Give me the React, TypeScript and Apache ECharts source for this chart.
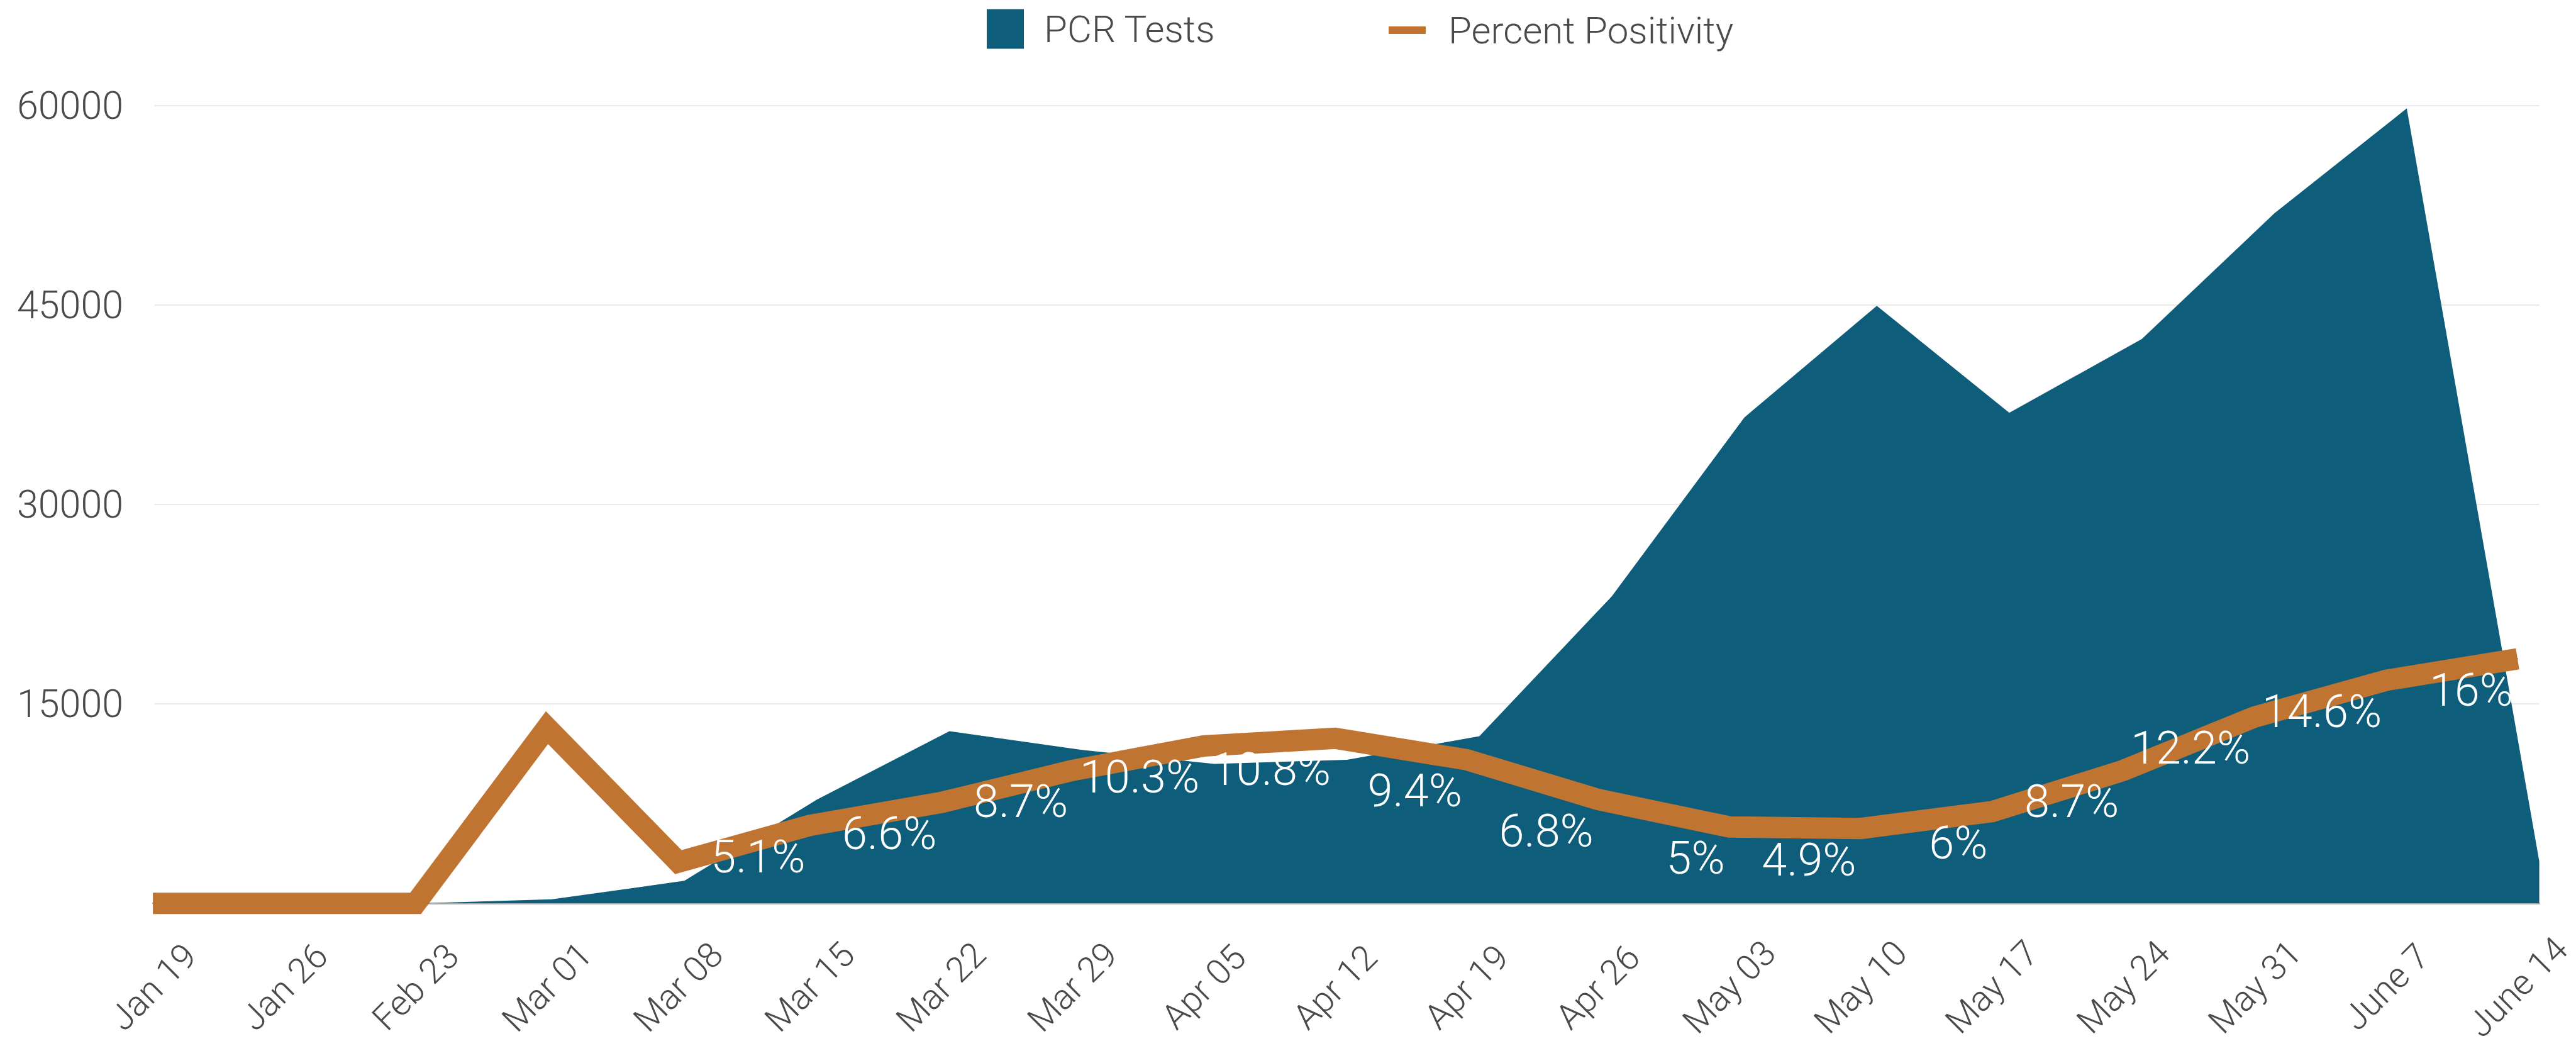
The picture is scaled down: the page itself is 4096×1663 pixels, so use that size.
import React, { useEffect, useRef } from "react";
import * as echarts from "echarts";

const categories = [
  "Jan 19", "Jan 26", "Feb 23", "Mar 01", "Mar 08", "Mar 15", "Mar 22", "Mar 29",
  "Apr 05", "Apr 12", "Apr 19", "Apr 26", "May 03", "May 10", "May 17", "May 24",
  "May 31", "June 7", "June 14",
];
const pcrTests = [
  0, 0, 0, 300, 1700, 7800, 12950, 11540, 10490, 10800, 12570, 23100, 36550,
  44950, 36900, 42450, 51900, 59800, 3160,
];
const positivity = [
  0, 0, 0, 11.5, 2.7, 5.1, 6.6, 8.7, 10.3, 10.8, 9.4, 6.8, 5, 4.9, 6, 8.7, 12.2,
  14.6, 16,
];
const firstLabelledIndex = 5;
const yTicks = { min: 0, max: 60000, interval: 15000 };
const percentAxisMax = 52.2;

const AREA_COLOR = "#0e5e7b";
const LINE_COLOR = "#bf7531";
const TEXT_COLOR = "#4a4a4a";
const FONT = "Roboto";

export default function App() {
  const ref = useRef<HTMLDivElement>(null);

  useEffect(() => {
    if (!ref.current) return;
    const chart = echarts.init(ref.current, undefined, { renderer: "svg" });
    const gridTop = 168.1;
    const gridBottom = 226.8;
    chart.setOption({
      animation: false,
      backgroundColor: "#ffffff",
      textStyle: { fontFamily: FONT, fontWeight: 300 },
      legend: [
        {
          data: [{ name: "PCR Tests", icon: "rect" }],
          left: 1569,
          top: 10,
          padding: 0,
          itemWidth: 59,
          itemHeight: 63,
          selectedMode: false,
          itemStyle: { color: AREA_COLOR, borderWidth: 0 },
          textStyle: {
            fontFamily: FONT,
            fontWeight: 300,
            fontSize: 60,
            lineHeight: 72,
            color: TEXT_COLOR,
            padding: [0, 0, 0, 27],
          },
        },
        {
          data: [{ name: "Percent Positivity", icon: "rect" }],
          left: 2208,
          top: 12,
          padding: 0,
          itemWidth: 59,
          itemHeight: 12,
          selectedMode: false,
          itemStyle: { color: LINE_COLOR, borderWidth: 0 },
          textStyle: {
            fontFamily: FONT,
            fontWeight: 300,
            fontSize: 60,
            lineHeight: 72,
            color: TEXT_COLOR,
            padding: [0, 0, 0, 31],
          },
        },
      ],
      grid: [
        { left: 245.6, right: 58.4, top: gridTop, bottom: gridBottom },
        { left: 243.1, right: 93, top: gridTop, bottom: gridBottom },
      ],
      xAxis: [
        {
          gridIndex: 0,
          type: "category",
          boundaryGap: false,
          data: categories,
          axisTick: { show: false },
          axisLabel: { show: false },
          axisLine: { show: true, lineStyle: { color: "#b3b3b3", width: 3 } },
          splitLine: { show: false },
        },
        {
          gridIndex: 1,
          type: "category",
          boundaryGap: false,
          data: categories,
          axisTick: { show: false },
          axisLine: { show: false },
          splitLine: { show: false },
          axisLabel: {
            interval: 0,
            rotate: 45,
            align: "center",
            verticalAlign: "middle",
            margin: 133,
            fontSize: 56,
            fontFamily: FONT,
            fontWeight: 300,
            color: TEXT_COLOR,
          },
        },
      ],
      yAxis: [
        {
          gridIndex: 0,
          type: "value",
          min: yTicks.min,
          max: yTicks.max,
          interval: yTicks.interval,
          axisLine: { show: false },
          axisTick: { show: false },
          axisLabel: {
            showMinLabel: false,
            margin: 49.5,
            fontSize: 61,
            fontFamily: FONT,
            fontWeight: 300,
            color: TEXT_COLOR,
            formatter: (v: number) => String(v),
          },
          splitLine: { show: true, lineStyle: { color: "#e2e2e2", width: 1.5 } },
        },
        {
          gridIndex: 1,
          type: "value",
          min: 0,
          max: percentAxisMax,
          show: false,
          splitLine: { show: false },
        },
      ],
      series: [
        {
          name: "PCR Tests",
          type: "line",
          xAxisIndex: 0,
          yAxisIndex: 0,
          data: pcrTests,
          symbol: "none",
          lineStyle: { width: 0, color: AREA_COLOR },
          itemStyle: { color: AREA_COLOR },
          areaStyle: { color: AREA_COLOR, opacity: 1 },
          z: 2,
        },
        {
          name: "Percent Positivity",
          type: "line",
          xAxisIndex: 1,
          yAxisIndex: 1,
          clip: false,
          data: positivity.map((v, i) =>
            i < firstLabelledIndex ? { value: v, label: { show: false } } : v
          ),
          symbol: "circle",
          symbolSize: 2,
          itemStyle: { color: LINE_COLOR },
          lineStyle: {
            width: 34,
            color: LINE_COLOR,
            join: "miter",
            cap: "butt",
            miterLimit: 30,
          },
          label: {
            show: true,
            position: "inside",
            align: "right",
            verticalAlign: "middle",
            offset: [-7, 50],
            formatter: (p: any) => `${p.value}%`,
            color: "#ffffff",
            fontSize: 72,
            fontFamily: FONT,
            fontWeight: 300,
          },
          z: 3,
        },
      ],
    });
    return () => chart.dispose();
  }, []);

  return (
    <div
      ref={ref}
      style={{
        position: "fixed",
        left: 0,
        top: 0,
        width: 4096,
        height: 1663,
        background: "#ffffff",
      }}
    />
  );
}
